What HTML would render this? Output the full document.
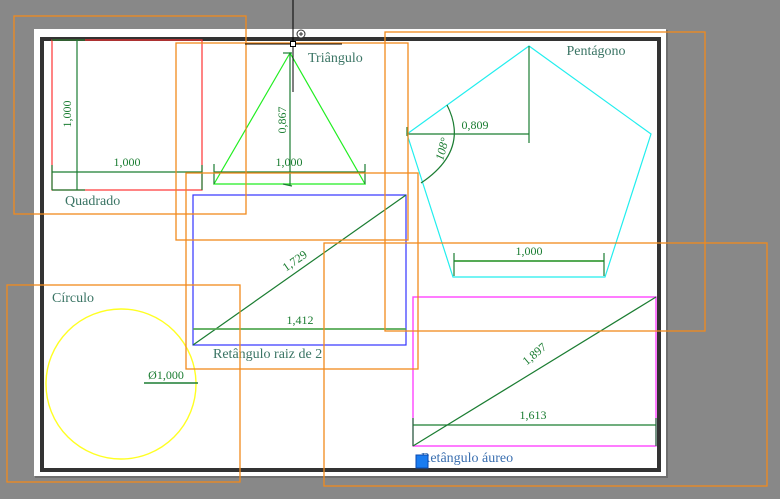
<!DOCTYPE html>
<html><head><meta charset="utf-8"><style>
html,body{margin:0;padding:0;background:#888;}
svg{display:block;}
text{font-family:"Liberation Serif",serif;}
.d{fill:#1b7d32;font-size:12px;}
.l{fill:#3a7464;font-size:14px;}
</style></head><body>
<svg width="780" height="499" viewBox="0 0 780 499" xmlns="http://www.w3.org/2000/svg">
<rect width="780" height="499" fill="#888"/>
<rect x="35" y="30" width="633" height="448" fill="#6e6e6e"/>
<rect x="34" y="29" width="632" height="447" fill="#fff"/>
<rect x="42" y="39" width="617" height="431" fill="#fff" stroke="#333" stroke-width="4"/>

<!-- Square -->
<rect x="52" y="40" width="150" height="150" fill="none" stroke="#f33" stroke-width="1.2"/>
<g stroke="#1b7d32" stroke-width="1.2" fill="none">
<line x1="77" y1="40" x2="77" y2="190"/><line x1="52" y1="40" x2="85" y2="40"/><line x1="52" y1="190" x2="85" y2="190"/>
<line x1="52" y1="172" x2="202" y2="172"/><line x1="52" y1="165" x2="52" y2="190"/><line x1="202" y1="165" x2="202" y2="190"/>
</g>
<text class="d" x="127" y="166" text-anchor="middle">1,000</text>
<text class="d" transform="translate(71,114) rotate(-90)" text-anchor="middle">1,000</text>
<text class="l" x="65" y="205">Quadrado</text>

<!-- Triangle -->
<polygon points="290,53 214,184 365,184" fill="none" stroke="#2e2" stroke-width="1.2"/>
<g stroke="#1b7d32" stroke-width="1.2" fill="none">
<line x1="290" y1="53" x2="290" y2="186"/><line x1="283" y1="53" x2="292" y2="53"/><line x1="283" y1="184" x2="292" y2="186"/>
<line x1="214" y1="172" x2="365" y2="172"/><line x1="214" y1="164" x2="214" y2="184"/><line x1="365" y1="164" x2="365" y2="184"/>
</g>
<text class="d" x="289" y="166" text-anchor="middle">1,000</text>
<text class="d" transform="translate(286,120) rotate(-90)" text-anchor="middle">0,867</text>
<text class="l" x="308" y="62">Triângulo</text>

<!-- Pentagon -->
<polygon points="529,46 651,134 605,277 453,277 407,134" fill="none" stroke="#2ee" stroke-width="1.2"/>
<g stroke="#1b7d32" stroke-width="1.2" fill="none">
<line x1="407" y1="134" x2="529" y2="134"/><line x1="529" y1="46" x2="529" y2="143"/><line x1="407" y1="127" x2="407" y2="136"/>
<path d="M447,105 Q470,150 421,183"/>
<line x1="454" y1="261" x2="604" y2="261" stroke-width="2" stroke="#5a5"/><line x1="454" y1="253" x2="454" y2="276"/><line x1="604" y1="253" x2="604" y2="276"/>
</g>
<text class="d" x="475" y="129" text-anchor="middle">0,809</text>
<text class="d" transform="translate(446,150) rotate(-75)" text-anchor="middle" font-style="italic">108°</text>
<text class="d" x="529" y="255" text-anchor="middle">1,000</text>
<text class="l" x="596" y="55" text-anchor="middle">Pentágono</text>

<!-- Root 2 rect -->
<rect x="193" y="195" width="213" height="150" fill="none" stroke="#33f" stroke-width="1.2"/>
<g stroke="#1b7d32" stroke-width="1.2" fill="none">
<line x1="193" y1="345" x2="406" y2="195"/>
<line x1="193" y1="329" x2="406" y2="329" stroke="#5a5" stroke-width="1.8"/>
</g>
<text class="d" transform="translate(297,264) rotate(-35)" text-anchor="middle">1,729</text>
<text class="d" x="300" y="324" text-anchor="middle">1,412</text>
<text class="l" x="213" y="358">Retângulo raiz de 2</text>

<!-- Circle -->
<ellipse cx="121" cy="384" rx="75" ry="75" fill="none" stroke="#ff2" stroke-width="1.4"/>
<line x1="144" y1="383" x2="198" y2="383" stroke="#1b7d32" stroke-width="1.5"/>
<text class="d" x="166" y="379" text-anchor="middle">Ø1,000</text>
<text class="l" x="52" y="302">Círculo</text>

<!-- Golden rect -->
<rect x="413" y="297" width="243" height="149" fill="none" stroke="#f4f" stroke-width="1.4"/>
<g stroke="#1b7d32" stroke-width="1.2" fill="none">
<line x1="413" y1="446" x2="656" y2="297"/>
<line x1="413" y1="425" x2="656" y2="425"/><line x1="413" y1="418" x2="413" y2="446"/><line x1="656" y1="418" x2="656" y2="446"/>
</g>
<text class="d" transform="translate(537,357) rotate(-40)" text-anchor="middle">1,897</text>
<text class="d" x="533" y="419" text-anchor="middle">1,613</text>
<text class="l" x="421" y="462" style="fill:#3a6fb0">Retângulo áureo</text>
<rect x="416" y="455" width="12" height="13" fill="#1a7cf0" stroke="#0a4ab0"/>

<!-- orange selection boxes -->
<g fill="none" stroke="#f28a1c" stroke-width="1.3">
<rect x="14" y="16" width="232" height="198"/>
<rect x="176" y="43" width="232" height="197"/>
<rect x="385" y="32" width="320" height="299"/>
<rect x="186" y="173" width="232" height="196"/>
<rect x="7" y="285" width="233" height="197"/>
<rect x="324" y="243" width="443" height="243"/>
</g>

<!-- cursor -->
<g stroke="#000" stroke-width="1">
<line x1="293" y1="0" x2="293" y2="92"/>
<line x1="245" y1="44" x2="342" y2="44"/>
<rect x="290.5" y="41.5" width="5" height="5" fill="#fff"/>
</g>
<circle cx="301" cy="34" r="4" fill="#fff" stroke="#333"/>
<path d="M299,34h4M301,32v4" stroke="#333"/>
</svg>
</body></html>
